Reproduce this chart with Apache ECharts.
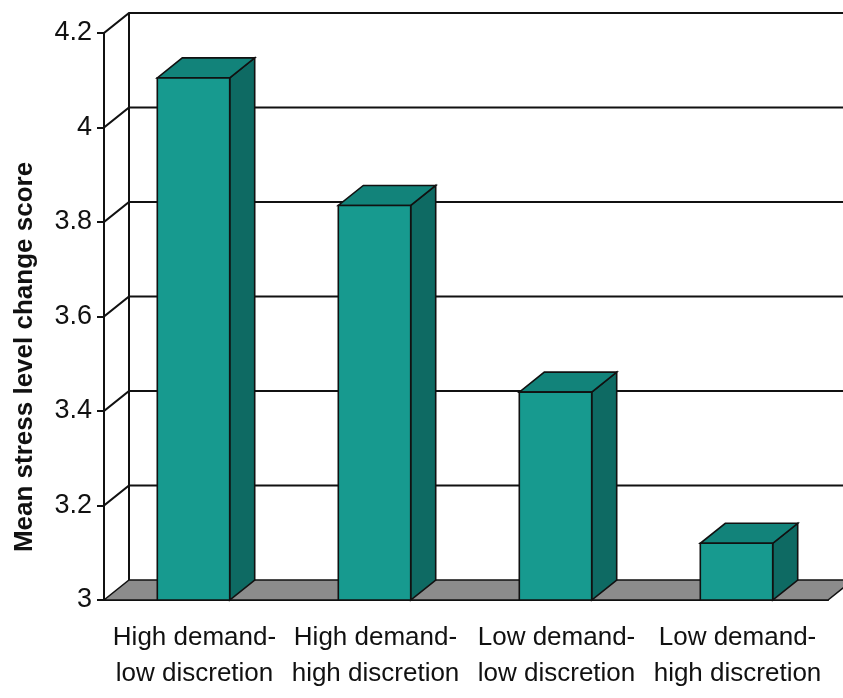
<!DOCTYPE html>
<html lang="en">
<head>
  <meta charset="UTF-8">
  <title>Mean stress level change score</title>
  <script src="https://cdn.jsdelivr.net/npm/echarts@6/dist/echarts.min.js"></script>
</head>
<body style="margin:0">
  <div id="app" style="width: 843px; height: 698px;"></div>
  <script>
    var categories = ['High demand-\nlow discretion', 'High demand-\nhigh discretion', 'Low demand-\nlow discretion', 'Low demand-\nhigh discretion']
    var scores = [4.105, 3.835, 3.44, 3.12]
    var yTicks = [3, 3.2, 3.4, 3.6, 3.8, 4.0, 4.2]

    var DX = 25, DY = 20 // depth of the 3d look
    var yMin = 3, yMax = 4.2

    var mCharts = echarts.init(document.querySelector('#app'))

    // back wall, gridlines and floor
    function renderWalls(params, api) {
      var cs = params.coordSys
      var v = api.value(1)
      var y = api.coord([0, v])[1]
      var right = cs.x + cs.width
      if (v === yMin) {
        var top = api.coord([0, yMax])[1]
        return {
          type: 'group',
          children: [
            {
              type: 'polygon',
              shape: { points: [[cs.x, y], [right, y], [right + DX, y - DY], [cs.x + DX, y - DY]] },
              style: { fill: '#8c8c8c', stroke: '#111', lineWidth: 1.5 }
            },
            {
              type: 'line',
              shape: { x1: cs.x + DX, y1: y - DY, x2: cs.x + DX, y2: top - DY },
              style: { stroke: '#111', lineWidth: 2 }
            }
          ]
        }
      }
      return {
        type: 'polyline',
        shape: { points: [[cs.x, y], [cs.x + DX, y - DY], [right + DX, y - DY]] },
        style: { fill: null, stroke: '#111', lineWidth: 2.2 }
      }
    }

    function renderBar(params, api) {
      var i = api.value(0)
      var top = api.coord([i, api.value(1)])
      var base = api.coord([i, yMin])
      var w = api.size([1, 0])[0] * 0.4
      var x0 = top[0] - w / 2 - 1
      var x1 = x0 + w
      var ty = top[1], by = base[1]
      var line = { stroke: '#111', lineWidth: 1.6 }
      return {
        type: 'group',
        children: [
          {
            type: 'polygon',
            shape: { points: [[x1, ty], [x1 + DX, ty - DY], [x1 + DX, by - DY], [x1, by]] },
            style: Object.assign({ fill: '#0e6a63' }, line)
          },
          {
            type: 'polygon',
            shape: { points: [[x0, ty], [x1, ty], [x1 + DX, ty - DY], [x0 + DX, ty - DY]] },
            style: Object.assign({ fill: '#12837a' }, line)
          },
          {
            type: 'rect',
            shape: { x: x0, y: ty, width: w, height: by - ty },
            style: Object.assign({ fill: '#179a8f' }, line)
          }
        ]
      }
    }

    var option = {
      animation: false,
      grid: { left: 104, right: 15, top: 33, bottom: 98 },
      xAxis: {
        type: 'category',
        data: categories,
        axisLine: { lineStyle: { color: '#111', width: 2 } },
        axisTick: { length: 9, lineStyle: { color: '#111', width: 2 } },
        axisLabel: {
          interval: 0,
          margin: 20,
          fontSize: 26,
          lineHeight: 36,
          color: '#111',
          fontFamily: 'Liberation Sans, Arial, sans-serif'
        }
      },
      yAxis: {
        type: 'value',
        min: yMin,
        max: yMax,
        interval: 0.2,
        axisLine: { show: true, lineStyle: { color: '#111', width: 2 } },
        axisTick: { show: true, length: 7, lineStyle: { color: '#111', width: 2 } },
        splitLine: { show: false },
        axisLabel: {
          margin: 12,
          fontSize: 27,
          color: '#111',
          fontFamily: 'Liberation Sans, Arial, sans-serif'
        }
      },
      graphic: [
        {
          type: 'text',
          x: 25,
          y: 357,
          rotation: Math.PI / 2,
          style: {
            text: 'Mean stress level change score',
            font: 'bold 26px "Liberation Sans", Arial, sans-serif',
            fill: '#111',
            textAlign: 'center',
            textVerticalAlign: 'middle'
          }
        }
      ],
      series: [
        {
          type: 'custom',
          renderItem: renderWalls,
          data: yTicks.map(function (v) { return [0, v] }),
          silent: true,
          z: 1
        },
        {
          type: 'custom',
          renderItem: renderBar,
          data: scores.map(function (v, i) { return [i, v] }),
          z: 2
        }
      ]
    }
    mCharts.setOption(option)
  </script>
</body>
</html>
